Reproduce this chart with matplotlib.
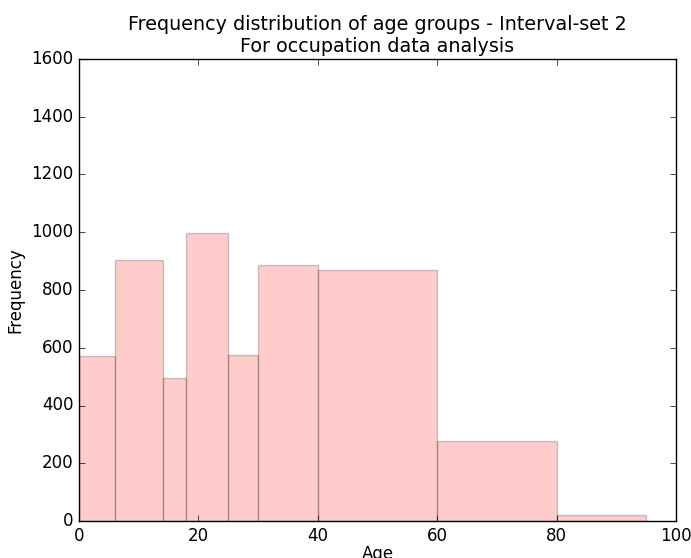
import matplotlib
matplotlib.use("Agg")
import matplotlib.pyplot as plt
import numpy as np

plt.style.use('classic')

# interval-set 2 bin edges and counts
bin_edges = [0, 6, 14, 18, 25, 30, 40, 60, 80, 95]
counts = [572, 905, 496, 999, 575, 886, 868, 277, 21]

edges = np.array(bin_edges)
fig = plt.figure(figsize=(6.91, 5.58), dpi=100, facecolor='white')
ax = fig.add_axes([79 / 691, 1 - 521 / 558, 597 / 691, 462 / 558])

ax.bar(edges[:-1], counts, width=np.diff(edges), align='edge',
       color='red', edgecolor='black', alpha=0.2)

ax.set_xlim(0, 100)
ax.set_ylim(0, 1600)
ax.set_xlabel("Age", labelpad=0)
ax.set_ylabel("Frequency")
ax.set_title("Frequency distribution of age groups - Interval-set 2\nFor occupation data analysis",
             fontsize=13.8)

fig.savefig("out.png", dpi=100, facecolor='white')
